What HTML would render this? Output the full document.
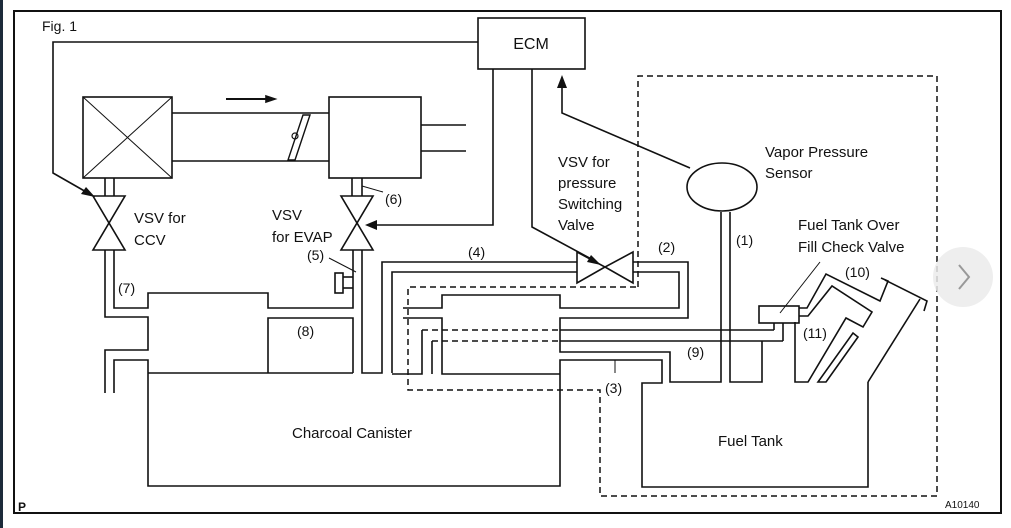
<!DOCTYPE html>
<html><head><meta charset="utf-8"><style>
html,body{margin:0;padding:0;background:#fff;width:1011px;height:528px;overflow:hidden}
svg{display:block}
text{font-family:"Liberation Sans",Arial,sans-serif;fill:#111}
</style></head><body>
<svg width="1011" height="528" viewBox="0 0 1011 528" xmlns="http://www.w3.org/2000/svg">
<rect x="0" y="0" width="3" height="528" fill="#1c2a3a"/>
<g fill="none" stroke="#111" stroke-width="1.6">
<rect x="14" y="11" width="987" height="502" stroke-width="2"/>
<!-- ECM -->
<rect x="478" y="18" width="107" height="51"/>
<!-- ECM to CCV -->
<polyline points="478,42 53,42 53,173 88,193"/>
<!-- ECM to EVAP -->
<polyline points="493,69 493,225 372,225"/>
<!-- ECM to pressure valve -->
<polyline points="532,69 532,227 595,261"/>
<!-- sensor to ECM -->
<polyline points="690,168 562,113 562,84"/>
<!-- air box -->
<rect x="83" y="97" width="89" height="81"/>
<line x1="83" y1="97" x2="172" y2="178" stroke-width="1"/>
<line x1="172" y1="97" x2="83" y2="178" stroke-width="1"/>
<line x1="172" y1="113" x2="329" y2="113"/>
<line x1="172" y1="161" x2="329" y2="161"/>
<line x1="226" y1="99" x2="266" y2="99" stroke-width="2"/>
<polygon points="266,96 275,99 266,102" fill="#111"/>
<polygon points="303,115 310,115 295,160 288,160" stroke-width="1.4"/>
<circle cx="295" cy="136" r="3" stroke-width="1.2"/>
<rect x="329" y="97" width="92" height="81"/>
<line x1="421" y1="125" x2="466" y2="125"/>
<line x1="421" y1="151" x2="466" y2="151"/>
<!-- CCV valve -->
<line x1="105" y1="178" x2="105" y2="196"/><line x1="114" y1="178" x2="114" y2="196"/>
<polygon points="93,196 125,196 109,223"/>
<polygon points="93,250 125,250 109,223"/>
<!-- EVAP valve -->
<line x1="352" y1="178" x2="352" y2="196"/><line x1="362" y1="178" x2="362" y2="196"/>
<polygon points="341,196 373,196 357,223"/>
<polygon points="341,250 373,250 357,223"/>
<line x1="362" y1="186" x2="383" y2="192" stroke-width="1"/>
<!-- (7) tubes -->
<polyline points="105,250 105,317 148,317 148,350 105,350 105,393"/>
<polyline points="114,250 114,308 148,308 148,293 268,293 268,308 353,308 353,250"/>
<polyline points="114,393 114,360 148,360 148,486 560,486 560,360 662,360 662,383 642,383 642,487 868,487 868,382"/>
<line x1="148" y1="373" x2="353" y2="373"/>
<polyline points="268,373 268,318 353,318 353,373"/>
<!-- (5) plug -->
<rect x="335" y="273" width="8" height="20"/>
<line x1="343" y1="277" x2="353" y2="277"/><line x1="343" y1="288" x2="353" y2="288"/>
<line x1="329" y1="258" x2="356" y2="272" stroke-width="1"/>
<!-- (4) tube -->
<polyline points="362,250 362,373 382,373 382,262 577,262"/>
<polyline points="392,373 392,272 577,272"/>
<!-- pressure valve -->
<polygon points="577,252 577,283 605,267"/>
<polygon points="633,252 633,283 605,267"/>
<!-- (2) tube -->
<polyline points="633,262 688,262 688,318 560,318 560,352 670,352 670,382 721,382 721,212"/>
<polyline points="633,272 679,272 679,308 560,308 560,295 442,295 442,308 403,308"/>
<polyline points="403,318 442,318 442,374 560,374"/>
<polyline points="392,374 422,374 422,330"/>
<polyline points="432,374 432,341"/>
<line x1="560" y1="330" x2="774" y2="330"/>
<line x1="560" y1="341" x2="783" y2="341"/>
<polyline points="774,330 774,323"/>
<polyline points="783,341 783,323"/>
<polyline points="730,212 730,382 762,382 762,341"/>
<line x1="615" y1="360" x2="615" y2="373" stroke-width="1"/>
<!-- sensor -->
<ellipse cx="722" cy="187" rx="35" ry="24"/>
<!-- check valve & filler -->
<rect x="759" y="306" width="40" height="17"/>
<line x1="820" y1="262" x2="780" y2="313" stroke-width="1"/>
<polyline points="799,308 807,308 826,274 880,301 888,281 881,278"/>
<polyline points="799,316 808,316 832,286 872,312 863,327 846,318 808,382 795,382 795,322"/>
<polygon points="818,382 853,333 858,337 826,382"/>
<polyline points="885,280 927,301 924,311"/>
<polyline points="920,299 868,382"/>
</g>
<g fill="none" stroke="#111" stroke-width="1.5" stroke-dasharray="6,4">
<polyline points="638,287 638,76 937,76 937,496 600,496 600,390 408,390 408,287 640,287"/>
<line x1="422" y1="330" x2="560" y2="330"/>
<line x1="432" y1="341" x2="560" y2="341"/>
</g>
<g fill="#111">
<polygon points="95,197 81,194 86,187"/>
<polygon points="365,225 377,220 377,230"/>
<polygon points="601,265 587,262 591,255"/>
<polygon points="562,75 557,88 567,88"/>
</g>
<text x="42" y="31" font-size="14">Fig. 1</text>
<text x="531" y="49" font-size="16" text-anchor="middle">ECM</text>
<text x="134" y="223" font-size="15">VSV for</text>
<text x="134" y="245" font-size="15">CCV</text>
<text x="272" y="220" font-size="15">VSV</text>
<text x="272" y="242" font-size="15">for EVAP</text>
<text x="385" y="204" font-size="14">(6)</text>
<text x="307" y="260" font-size="14">(5)</text>
<text x="118" y="293" font-size="14">(7)</text>
<text x="297" y="336" font-size="14">(8)</text>
<text x="468" y="257" font-size="14">(4)</text>
<text x="658" y="252" font-size="14">(2)</text>
<text x="558" y="167" font-size="15">VSV for</text>
<text x="558" y="188" font-size="15">pressure</text>
<text x="558" y="209" font-size="15">Switching</text>
<text x="558" y="230" font-size="15">Valve</text>
<text x="765" y="157" font-size="15">Vapor Pressure</text>
<text x="765" y="178" font-size="15">Sensor</text>
<text x="736" y="245" font-size="14">(1)</text>
<text x="798" y="230" font-size="15">Fuel Tank Over</text>
<text x="798" y="252" font-size="15">Fill Check Valve</text>
<text x="845" y="277" font-size="14">(10)</text>
<text x="803" y="338" font-size="14">(11)</text>
<text x="687" y="357" font-size="14">(9)</text>
<text x="605" y="393" font-size="14">(3)</text>
<text x="292" y="438" font-size="15">Charcoal Canister</text>
<text x="718" y="446" font-size="15">Fuel Tank</text>
<text x="18" y="511" font-size="12" font-weight="bold">P</text>
<text x="945" y="508" font-size="10">A10140</text>
<circle cx="963" cy="277" r="30" fill="#ebebeb" opacity="0.85"/>
<polyline points="959,265 969,277 959,289" fill="none" stroke="#999" stroke-width="2"/>
</svg>
</body></html>
